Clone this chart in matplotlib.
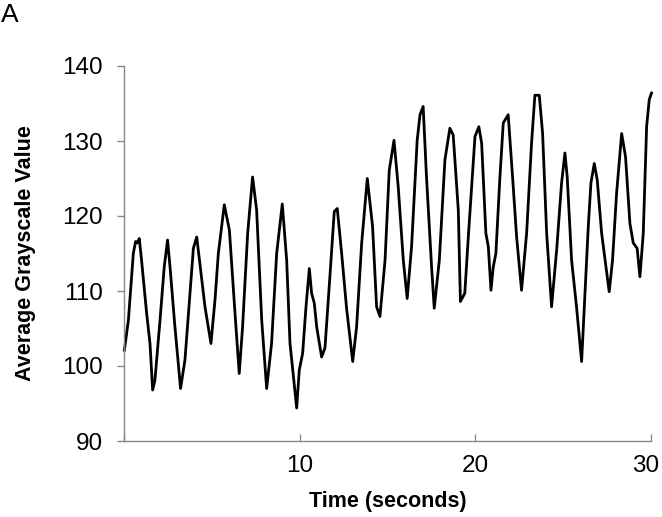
import matplotlib
matplotlib.use("Agg")
import matplotlib.pyplot as plt
from matplotlib.transforms import ScaledTranslation

# (seconds, mean grayscale)
time_s = [
    0.02, 0.25, 0.53, 0.66, 0.75, 0.87, 1.00, 1.29, 1.48, 1.63, 1.76, 2.05,
    2.29, 2.48, 2.62, 2.90, 3.22, 3.47, 3.76, 3.95, 4.14, 4.38, 4.61, 4.95,
    5.18, 5.37, 5.71, 6.00, 6.32, 6.56, 6.75, 7.04, 7.32, 7.55, 7.84, 8.12,
    8.40, 8.69, 9.01, 9.26, 9.45, 9.83, 9.98, 10.17, 10.36, 10.55, 10.68,
    10.83, 10.97, 11.25, 11.44, 11.72, 11.97, 12.14, 12.39, 12.67, 13.02,
    13.24, 13.53, 13.85, 14.15, 14.38, 14.57, 14.86, 15.10, 15.37, 15.61,
    15.90, 16.12, 16.37, 16.69, 16.85, 17.03, 17.22, 17.51, 17.66, 17.95,
    18.27, 18.55, 18.74, 19.03, 19.15, 19.40, 19.60, 19.98, 20.20, 20.36,
    20.60, 20.74, 20.89, 21.02, 21.17, 21.40, 21.59, 21.87, 22.12, 22.35,
    22.63, 22.92, 23.20, 23.39, 23.64, 23.83, 24.06, 24.34, 24.63, 24.91,
    25.10, 25.23, 25.48, 25.76, 26.05, 26.24, 26.43, 26.58, 26.77, 26.94,
    27.19, 27.62, 27.81, 28.04, 28.33, 28.55, 28.80, 28.99, 29.21, 29.37,
    29.56, 29.75, 29.90, 30.03,
]
grayscale = [
    102.1, 106.1, 115.0, 116.6, 116.4, 117.0, 114.1, 107.0, 103.0, 96.8, 98.1,
    106.1, 113.2, 116.8, 113.2, 105.2, 97.0, 100.8, 109.7, 115.7, 117.2, 112.4,
    107.9, 103.0, 108.8, 115.0, 121.5, 118.1, 107.0, 99.0, 105.2, 117.7, 125.2,
    120.8, 106.1, 97.0, 103.0, 115.0, 121.6, 114.1, 103.0, 94.4, 99.5, 101.7,
    107.9, 113.0, 109.7, 108.4, 105.2, 101.2, 102.4, 111.9, 120.6, 121.0,
    115.0, 107.7, 100.6, 105.2, 116.4, 125.0, 118.6, 107.9, 106.6, 114.1,
    126.1, 130.1, 123.9, 114.1, 109.0, 115.9, 130.1, 133.5, 134.6, 125.2,
    113.2, 107.7, 114.1, 127.5, 131.7, 130.8, 120.8, 108.6, 109.7, 117.2,
    130.6, 131.9, 129.7, 117.7, 115.9, 110.1, 113.2, 115.0, 125.2, 132.4,
    133.5, 125.2, 117.2, 110.1, 117.7, 129.7, 136.1, 136.1, 131.0, 117.7,
    107.9, 115.5, 124.4, 128.4, 125.2, 114.1, 107.9, 100.6, 109.7, 118.6,
    124.4, 127.0, 124.8, 117.7, 109.9, 114.1, 123.0, 131.0, 127.9, 119.0,
    116.4, 115.7, 111.9, 117.7, 131.9, 135.5, 136.4,
]
x_ticks = [0, 10, 20, 30]
x_ticklabels = ["", "10", "20", "30"]
y_ticks = [90, 100, 110, 120, 130, 140]

plt.rcParams["font.family"] = ["Liberation Sans", "DejaVu Sans"]

fig = plt.figure(figsize=(6.62, 5.17), dpi=100)
ax = fig.add_axes([124 / 662, 1 - 441 / 517, (651 - 124) / 662, (441 - 66) / 517])

ax.plot(time_s, grayscale, color="black", lw=2.0, solid_joinstyle="round",
        clip_on=False)

ax.set_xlim(0, 30)
ax.set_ylim(90, 140)
ax.set_xticks(x_ticks)
ax.set_xticklabels(x_ticklabels)
ax.set_yticks(y_ticks)

for s in ("top", "right"):
    ax.spines[s].set_visible(False)
for s in ("left", "bottom"):
    ax.spines[s].set_color("#888888")
    ax.spines[s].set_linewidth(1.0)

ax.tick_params(axis="y", direction="out", length=5, width=1.0, color="#888888",
               labelsize=17.5, pad=10)
ax.tick_params(axis="x", direction="in", length=5, width=1.0, color="#888888",
               labelsize=17.5, pad=10)

# keep the last x label inside the figure, as the original does
last = ax.get_xticklabels()[-1]
last.set_transform(last.get_transform() + ScaledTranslation(-0.05, 0, fig.dpi_scale_trans))

ax.set_xlabel("Time (seconds)", fontsize=15.5, fontweight="bold", labelpad=10)
ax.set_ylabel("Average Grayscale Value", fontsize=15.5, fontweight="bold",
              labelpad=19)

fig.text(1 / 662, 1 - 3 / 517, "A", fontsize=19, ha="left", va="top")

fig.savefig("out.png", dpi=100)
